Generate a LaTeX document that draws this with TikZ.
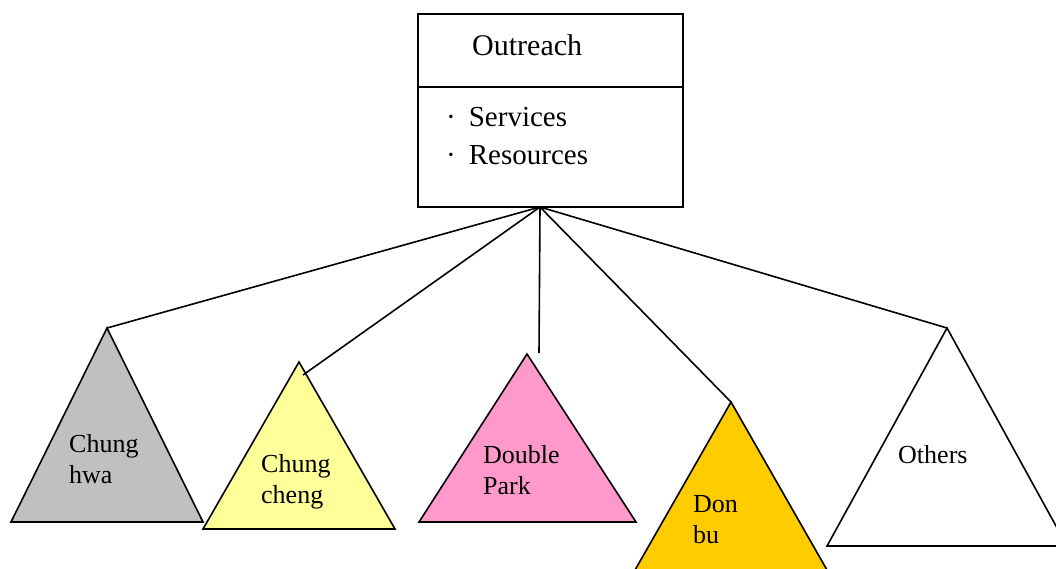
\documentclass[tikz,border=0pt]{standalone}
\usepackage{fontspec}
\setmainfont{Liberation Serif}
\begin{document}
\begin{tikzpicture}[x=1pt,y=-1pt,
  edge/.style={line width=1.6pt, black},
  tri/.style={line width=1.6pt, draw=black, line join=miter},
  boxtxt/.style={anchor=base west, inner sep=0pt, font=\fontsize{29}{34}\selectfont},
  tritxt/.style={anchor=base west, inner sep=0pt, align=left, font=\fontsize{26}{31}\selectfont}]
\definecolor{grayfill}{HTML}{C0C0C0}
\definecolor{yellowfill}{HTML}{FFFF99}
\definecolor{pinkfill}{HTML}{FF99CC}
\definecolor{goldfill}{HTML}{FFCC00}
\clip (0,0) rectangle (1056,568);

% Outreach box
\draw[line width=1.6pt] (418,14) rectangle (683,207);
\draw[line width=2pt] (418,87) -- (683,87);
\node[boxtxt, font=\fontsize{30}{34}\selectfont] (title) at (472,55) {Outreach};
\node[boxtxt] (svc) at (446,126) {·\hspace{13pt}Services};
\node[boxtxt] (res) at (446,164) {·\hspace{13pt}Resources};
\coordinate (hub) at (540,207);

% Apex points of the triangles and connector ends
\coordinate (a1) at (107,328);
\coordinate (a2) at (299,362);
\coordinate (a3) at (527,354);
\coordinate (a4) at (731,402);
\coordinate (a5) at (947,328);
\coordinate (e2) at (303,375);
\coordinate (e3) at (539,353);

% Triangles
\filldraw[tri, fill=grayfill]   (a1) -- (11,522) -- (203,522) -- cycle;
\filldraw[tri, fill=yellowfill] (a2) -- (203,529) -- (395,529) -- cycle;
\filldraw[tri, fill=pinkfill]   (a3) -- (419,522) -- (636,522) -- cycle;
\filldraw[tri, fill=goldfill]   (a4) -- (635,570) -- (827,570) -- cycle;
\filldraw[tri, fill=white]      (a5) -- (827,546) -- (1067,546) -- cycle;

% Connectors
\draw[edge] (hub) -- (a1);
\draw[edge] (hub) -- (e2);
\draw[edge] (hub) -- (e3);
\draw[edge] (hub) -- (a4);
\draw[edge] (hub) -- (a5);

% Labels (base anchor sits on the last line)
\node[tritxt] (t1) at (69,483) {Chung\\hwa};
\node[tritxt] (t2) at (261,503) {Chung\\cheng};
\node[tritxt] (t3) at (483,494) {Double\\Park};
\node[tritxt] (t4) at (693,543) {Don\\bu};
\node[tritxt] (t5) at (898,463) {Others};
\end{tikzpicture}
\end{document}
